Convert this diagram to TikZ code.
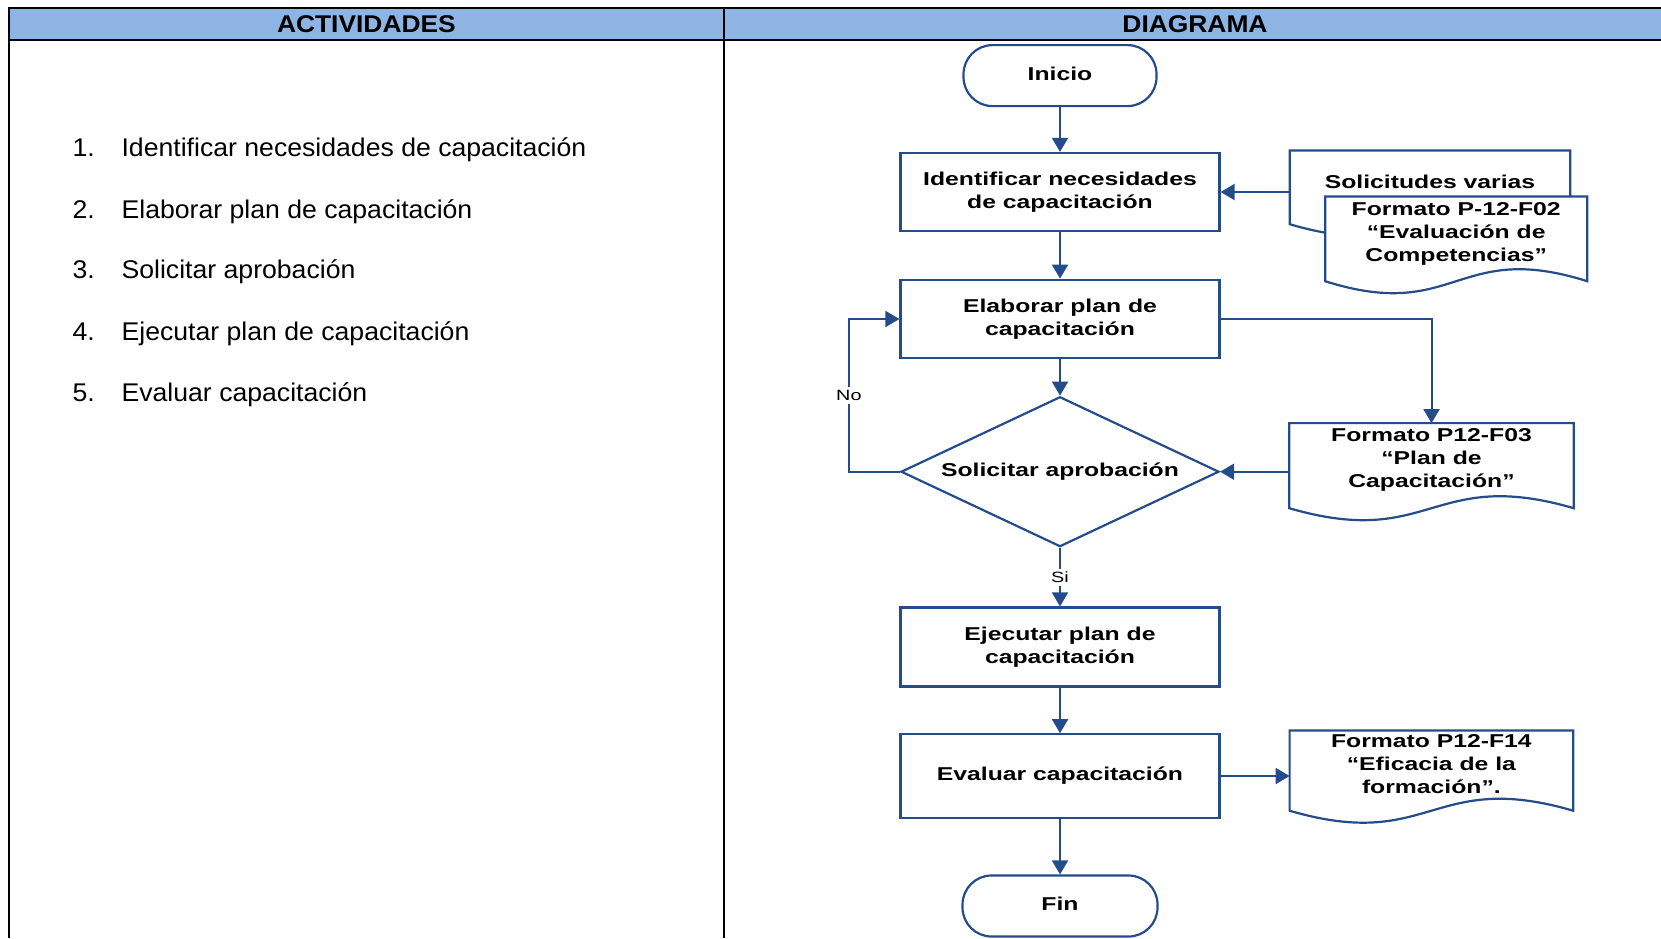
\documentclass[tikz,border=0pt]{standalone}
\usepackage{fontspec}
\setmainfont{Liberation Sans}
\newfontfamily\flowfont{Liberation Sans}[FakeStretch=1.33]
\newfontfamily\listfont{Liberation Sans}[FakeStretch=1.04]
\newfontfamily\headfont{Liberation Sans}[FakeStretch=1.09]
\usetikzlibrary{arrows.meta, shapes.geometric, calc}
\definecolor{flowblue}{RGB}{37,76,138}
\definecolor{headblue}{RGB}{142,180,227}

% document symbol: rectangle with a wavy lower edge, built on an empty node
\newcommand\drawdoc[1]{%
  \draw[flowline, fill=white] (#1.south west) -- (#1.north west) -- (#1.north east)
    -- (#1.south east)
    .. controls ($(#1.south)+(0,-41.5)$) and ($(#1.south)+(0,41.5)$) .. (#1.south west)
    -- cycle;}

\begin{document}
\begin{tikzpicture}[x=1pt, y=-1pt,
  frame/.style={line width=2.3pt, black},
  flowline/.style={draw=flowblue, line width=2.2pt},
  flowtxt/.style={font=\flowfont\fontsize{18.6}{23}\selectfont\bfseries, align=center},
  oneline/.style={text height=13.6pt, text depth=3.9pt},
  procbox/.style={flowline, flowtxt, rectangle, minimum width=319pt, inner sep=0pt},
  terminal/.style={flowline, flowtxt, oneline, rectangle, rounded corners=29pt,
    minimum width=193pt, minimum height=61pt, inner sep=0pt},
  decision/.style={flowline, flowtxt, oneline, diamond, aspect=2.12,
    minimum width=318pt, minimum height=150pt, inner sep=0pt},
  docbox/.style={rectangle, inner sep=0pt},
  doctext/.style={flowtxt, inner sep=0pt, anchor=north},
  conn/.style={draw=flowblue, line width=2pt, -{Triangle[length=14pt,width=16pt]}},
  lbl/.style={fill=white, inner xsep=1pt, inner ysep=3pt, text=black,
    font=\flowfont\fontsize{14.9}{17}\selectfont},
  listitem/.style={anchor=base west, inner sep=0pt,
    font=\listfont\fontsize{25.6}{30}\selectfont},
  headtext/.style={anchor=base, inner sep=0pt,
    font=\headfont\fontsize{24.2}{28}\selectfont\bfseries}
]
\useasboundingbox (0,0) rectangle (1661,938);

% table header and rules
\fill[headblue] (8.7,7.8) rectangle (1661,39.7);
\draw[frame] (8.7,7.8) -- (1661,7.8);
\draw[frame] (8.7,39.7) -- (1661,39.7);
\draw[frame] (8.7,6.65) -- (8.7,938);
\draw[frame] (724,6.65) -- (724,938);
\node[headtext] (hdA) at (366.4,32.3) {ACTIVIDADES};
\node[headtext] (hdB) at (1195,32.3) {DIAGRAMA};

% list of activities
\node[listitem] (act1) at (72.3,156.0) {\makebox[49.1pt][l]{1.}Identificar necesidades de capacitación};
\node[listitem] (act2) at (72.3,218.3) {\makebox[49.1pt][l]{2.}Elaborar plan de capacitación};
\node[listitem] (act3) at (72.3,278.3) {\makebox[49.1pt][l]{3.}Solicitar aprobación};
\node[listitem] (act4) at (72.3,340.0) {\makebox[49.1pt][l]{4.}Ejecutar plan de capacitación};
\node[listitem] (act5) at (72.3,401.7) {\makebox[49.1pt][l]{5.}Evaluar capacitación};

% main flow
\node[terminal] (ini) at (1060,75.6) {Inicio};
\node[procbox, minimum height=78pt] (box1) at (1060,192) {Identificar necesidades\\de capacitación};
\node[procbox, minimum height=78.6pt] (box2) at (1060,319) {Elaborar plan de\\capacitación};
\node[decision] (dia) at (1060,471.7) {Solicitar aprobación};
\node[procbox, minimum height=79pt] (box3) at (1060,647) {Ejecutar plan de\\capacitación};
\node[procbox, oneline, minimum height=83.4pt] (box4) at (1060,776) {Evaluar capacitación};
\node[terminal, minimum width=195pt] (fin) at (1060,906) {Fin};

% documents
\node[docbox, minimum width=280pt, minimum height=73.3pt] (docA) at (1430,187.35) {};
\node[docbox, minimum width=261.6pt, minimum height=84.3pt] (docB) at (1456.2,238.85) {};
\node[docbox, minimum width=284pt, minimum height=84.7pt] (docC) at (1431.5,465.65) {};
\node[docbox, minimum width=283.2pt, minimum height=79.8pt] (docD) at (1431.4,770.6) {};
\drawdoc{docA}
\drawdoc{docB}
\drawdoc{docC}
\drawdoc{docD}
\node[flowtxt, anchor=base, inner sep=0pt] (docAt) at (1430,188) {Solicitudes varias};
\node[doctext] (docBt) at (1456.2,202.1) {Formato P-12-F02\\“Evaluación de\\Competencias”};
\node[doctext] (docCt) at (1431.5,428.1) {Formato P12-F03\\“Plan de\\Capacitación”};
\node[doctext] (docDt) at (1431.4,734.1) {Formato P12-F14\\“Eficacia de la\\formación”.};

% connectors
\draw[conn] (ini) -- (box1);
\draw[conn] (box1) -- (box2);
\draw[conn] (box2) -- (dia);
\draw[conn] (dia) -- node[lbl] (si) {Si} (box3);
\draw[conn] (box3) -- (box4);
\draw[conn] (box4) -- (fin);
\draw[conn] (dia.west) -- ++(-51,0) |- node[lbl, pos=0.25] (no) {No} (box2.west);
\draw[conn] (box2.east) -| (docC.north);
\draw[conn] (docC.west |- dia.east) -- (dia.east);
\draw[conn] (docA.west |- box1.east) -- (box1.east);
\draw[conn] (box4.east) -- (docD.west |- box4.east);
\end{tikzpicture}
\end{document}
